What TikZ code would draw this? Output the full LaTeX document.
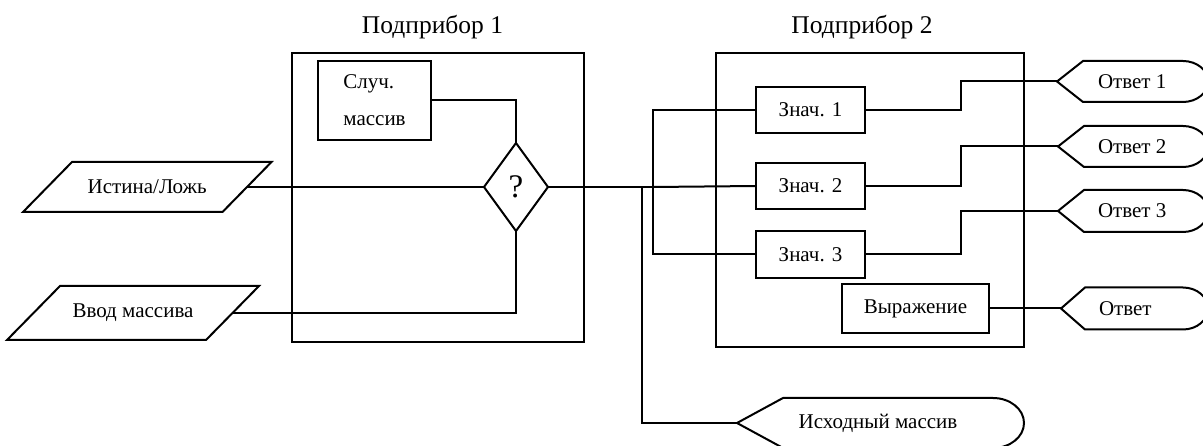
\documentclass[tikz,border=0pt]{standalone}
\usepackage{fontspec}
\setmainfont{Liberation Serif}
\usetikzlibrary{calc}
\newcommand\lblfont{\fontsize{21}{25}\selectfont}
\newcommand\ttlfont{\fontsize{25.5}{30}\selectfont}
\newcommand\dispout[7]{%
  \coordinate (#1) at (#2,#3);
  \draw[ln] (#1) -- (#2+#5,#3-#4) -- (#6,#3-#4) arc[start angle=90,end angle=-90,x radius=#7pt,y radius=#4pt] -- (#2+#5,#3+#4) -- cycle;}
\begin{document}
\begin{tikzpicture}[x=1pt,y=-1pt,
  ln/.style={line width=2pt, line join=miter},
  boxn/.style={draw, line width=2pt, inner sep=0pt, outer sep=0pt, font=\lblfont},
  txt/.style={inner sep=0pt, outer sep=0pt, font=\lblfont},
  ttl/.style={inner sep=0pt, font=\ttlfont, anchor=base}]
\useasboundingbox (0,0) rectangle (1203,446);
\clip (0,0) rectangle (1203,446);
% containers
\node[boxn, minimum width=292pt, minimum height=289pt] (sub1) at (438,197.5) {};
\node[boxn, minimum width=308pt, minimum height=294pt] (sub2) at (870,200) {};
\node[ttl] (t1) at (432.5,33.5) {Подприбор 1};
\node[ttl] (t2) at (862,33.5) {Подприбор 2};
% inner blocks
\node[boxn, minimum width=113pt, minimum height=79pt, align=left, font=\fontsize{21}{37}\selectfont] (rand) at (374.5,100.5) {Случ.\\массив};
\node[txt, minimum width=64pt, minimum height=88pt, font=\fontsize{33}{36}\selectfont] (q) at (516,187) {?};
\draw[ln] (q.north) -- (q.east) -- (q.south) -- (q.west) -- cycle;
\node[boxn, minimum width=109pt, minimum height=46pt] (v1) at (810.5,110) {Знач. 1};
\node[boxn, minimum width=109pt, minimum height=46pt] (v2) at (810.5,186) {Знач. 2};
\node[boxn, minimum width=109pt, minimum height=47pt] (v3) at (810.5,254.5) {Знач. 3};
\node[boxn, minimum width=147pt, minimum height=49pt] (expr) at (915.5,308.5) {Выражение};
% inputs
\node[txt, minimum width=199.5pt, minimum height=50pt] (in1) at (147.25,187) {Истина/Ложь};
\draw[ln] ([xshift=24.5pt]in1.north west) -- ([xshift=24.5pt]in1.north east) -- ([xshift=-24.5pt]in1.south east) -- ([xshift=-24.5pt]in1.south west) -- cycle;
\node[txt, minimum width=199pt, minimum height=54pt] (in2) at (133,313) {Ввод массива};
\draw[ln] ([xshift=26.5pt]in2.north west) -- ([xshift=26.5pt]in2.north east) -- ([xshift=-26.5pt]in2.south east) -- ([xshift=-26.5pt]in2.south west) -- cycle;
% outputs
\dispout{o1}{1057}{81.5}{20.5}{26}{1183}{25}
\node[txt, anchor=west] (a1) at (1098,81.5) {Ответ 1};
\dispout{o2}{1058}{146.5}{20.5}{26}{1183}{25}
\node[txt, anchor=west] (a2) at (1098,146.5) {Ответ 2};
\dispout{o3}{1058}{211}{21}{26}{1183}{25}
\node[txt, anchor=west] (a3) at (1098,211) {Ответ 3};
\dispout{o4}{1061}{308.5}{21}{24}{1183}{25}
\node[txt, anchor=west] (a4) at (1099,308.5) {Ответ};
\dispout{src}{737}{423}{25}{46}{993}{31}
\node[txt] (srct) at (878,423) {Исходный массив};
% connectors
\coordinate (bus) at (653,187);
\coordinate (split) at (642,187);
\coordinate (jog) at (961,0);
\draw[ln] (in1.east) -- (q.west);
\draw[ln] (in2.east) -| (q.south);
\draw[ln] (rand.east) -| (q.north);
\draw[ln] (q.east) -- (bus);
\draw[ln] (v1.west) -| (bus) |- (v3.west);
\draw[ln] (bus) -- (v2.west);
\draw[ln] (split) |- (src);
\draw[ln] (v1.east) -- (v1.east -| jog) |- (o1);
\draw[ln] (v2.east) -- (v2.east -| jog) |- (o2);
\draw[ln] (v3.east) -- (v3.east -| jog) |- (o3);
\draw[ln] (expr.east) -- (o4);
\end{tikzpicture}
\end{document}
